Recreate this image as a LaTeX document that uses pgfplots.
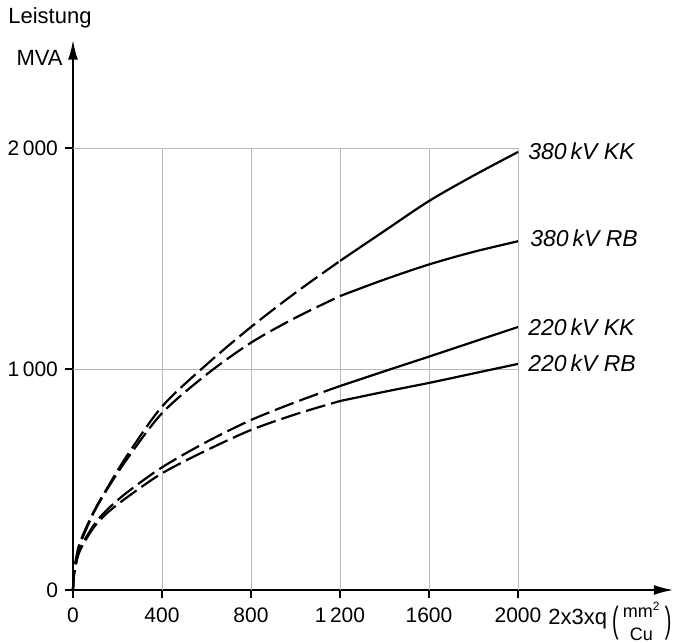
\documentclass[border=0pt]{standalone}
\usepackage{fontspec}
\setmainfont{Liberation Sans}
\usepackage{pgfplots}
\pgfplotsset{compat=1.18}
\usetikzlibrary{arrows.meta}
\begin{document}
\begin{tikzpicture}[font=\fontsize{11pt}{13pt}\selectfont]
\begin{axis}[
  at={(0,0)}, anchor=south west,
  x=0.11125pt, y=0.1105pt,
  xmin=0, xmax=2700, ymin=0, ymax=2490,
  axis lines=left,
  axis line style={line width=1.1pt, -{Latex[length=10pt,width=5pt]}},
  xtick={0,400,800,1200,1600,2000},
  xticklabels={0,400,800,1\,200,1600,2000},
  ytick={0,1000,2000},
  yticklabels={0,1\,000,2\,000},
  tick align=outside,
  major tick length=4pt,
  tick style={black, line width=0.6pt},
  xticklabel style={yshift=-1.5pt},
  /pgf/number format/assume math mode=true,
  ticklabel style={font=\fontsize{10.5pt}{12pt}\selectfont},
  clip=false,
]
% grid
\foreach \gx in {400,800,1200,1600,2000} {
  \edef\tmp{\noexpand\draw[gray!55, line width=0.35pt] (axis cs:\gx,0) -- (axis cs:\gx,2000);}
  \tmp
}
\draw[gray!55, line width=0.35pt] (axis cs:0,1000) -- (axis cs:2000,1000);
\draw[gray!55, line width=0.35pt] (axis cs:0,2000) -- (axis cs:2000,2000);

% 380 kV KK
\addplot[black, line width=1.1pt, smooth, dash pattern=on 10pt off 3pt] coordinates {
(0,0) (3,60) (10,120) (31,215) (91,350) (150,455) (241,605) (400,830) (600,1020) (800,1190) (1000,1345) (1200,1489)};
\addplot[black, line width=1.1pt, smooth] coordinates {
(1200,1489) (1400,1625) (1600,1760) (1800,1875) (2000,1982)};
% 380 kV RB
\addplot[black, line width=1.1pt, smooth, dash pattern=on 10pt off 3pt] coordinates {
(0,0) (3,60) (10,115) (31,205) (91,345) (150,450) (241,590) (400,800) (600,975) (800,1119) (1000,1232) (1200,1330)};
\addplot[black, line width=1.1pt, smooth] coordinates {
(1200,1330) (1400,1405) (1600,1473) (1800,1530) (2000,1578)};
% 220 kV KK
\addplot[black, line width=1.1pt, smooth, dash pattern=on 10pt off 3pt] coordinates {
(0,0) (3,55) (10,105) (31,185) (91,290) (150,360) (241,440) (400,555) (600,670) (800,769) (1000,850) (1200,923)};
\addplot[black, line width=1.1pt, smooth] coordinates {
(1200,923) (1400,990) (1600,1056) (1800,1123) (2000,1190)};
% 220 kV RB
\addplot[black, line width=1.1pt, smooth, dash pattern=on 10pt off 3pt] coordinates {
(0,0) (3,55) (10,100) (31,178) (91,280) (150,345) (241,418) (400,528) (600,632) (800,724) (1000,795) (1200,855)};
\addplot[black, line width=1.1pt, smooth] coordinates {
(1200,855) (1400,897) (1600,937) (1800,980) (2000,1023)};

% curve labels
\node[anchor=west, inner sep=0pt, font=\fontsize{11.5pt}{13pt}\selectfont\itshape] at (axis cs:2000,1985) [xshift=5pt] {380\,kV KK};
\node[anchor=west, inner sep=0pt, font=\fontsize{11.5pt}{13pt}\selectfont\itshape] at (axis cs:2000,1593) [xshift=6pt] {380\,kV RB};
\node[anchor=west, inner sep=0pt, font=\fontsize{11.5pt}{13pt}\selectfont\itshape] at (axis cs:2000,1190) [xshift=5pt] {220\,kV KK};
\node[anchor=west, inner sep=0pt, font=\fontsize{11.5pt}{13pt}\selectfont\itshape] at (axis cs:2000,1027) [xshift=5pt] {220\,kV RB};

% axis titles
\node[anchor=east, inner sep=0pt] at (axis cs:0,2407) [xshift=-5pt] {MVA};
\node[anchor=west, inner sep=0pt] at (axis cs:0,2588) [xshift=-32.5pt] {Leistung};
\node[anchor=base west, inner sep=0pt] at (axis cs:2135,0) [yshift=-17.5pt] {2x3xq};
\node[anchor=center, inner sep=0pt] at (axis cs:2438,0) [yshift=-16.5pt] {\scalebox{0.9}[1.65]{(}};
\node[anchor=base west, inner sep=0pt, font=\fontsize{9pt}{10pt}\selectfont] at (axis cs:2470,0) [yshift=-14pt] {mm\textsuperscript{2}};
\node[anchor=base, inner sep=0pt, font=\fontsize{9pt}{10pt}\selectfont] at (axis cs:2555,0) [yshift=-25.3pt] {Cu};
\node[anchor=center, inner sep=0pt] at (axis cs:2675,0) [yshift=-16.5pt] {\scalebox{0.9}[1.65]{)}};
\end{axis}
\pgfresetboundingbox
\path[use as bounding box] (-36.5pt,-26.5pt) rectangle (304.5pt,295pt);
\end{tikzpicture}
\end{document}
